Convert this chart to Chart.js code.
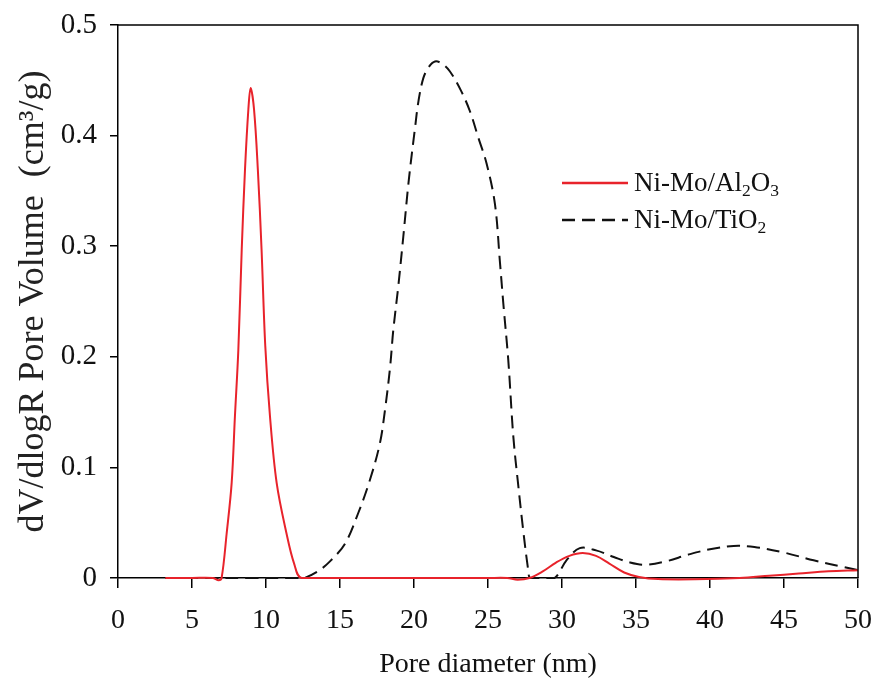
<!DOCTYPE html>
<html>
<head>
<meta charset="utf-8">
<script src="https://cdn.jsdelivr.net/npm/chart.js@4.4.1/dist/chart.umd.min.js"></script>
<style>
  html, body { margin: 0; padding: 0; background: #fff; }
  #wrap { position: relative; width: 885px; height: 682px; }
  #legend {
    position: absolute; left: 562px; top: 164px;
    font-family: 'Liberation Serif', 'Times New Roman', serif;
    font-size: 27px; color: #111;
  }
  .item { display: flex; align-items: center; height: 37px; white-space: nowrap; }
  .item svg { margin-right: 6px; }
  sub { font-size: 0.65em; vertical-align: -0.3em; line-height: 0; }
</style>
</head>
<body>
<div id="wrap">
  <canvas id="chart" width="885" height="682"></canvas>
  <div id="legend"></div>
</div>
<script>
// pore size distribution
const seriesLabels = ['Ni-Mo/Al₂O₃', 'Ni-Mo/TiO₂'];

const alDiameter = [3.2, 5, 6.4, 6.8, 7.0, 7.34, 7.68, 7.9, 8.13, 8.36, 8.58, 8.81, 8.96, 9.19, 9.45, 9.7, 9.95, 10.27, 10.72, 11.39, 11.9, 12.4,
  16, 20, 25, 26.3, 27, 27.8, 28.7, 29.6, 30.5, 31.4, 32.3, 33.2, 34.2, 35.2, 36.5, 39, 42, 44, 46, 48, 50];
const alVolume = [0, 0, 0, -0.002, 0, 0.04, 0.086, 0.146, 0.206, 0.297, 0.369, 0.424, 0.443, 0.424, 0.369, 0.297, 0.21, 0.146, 0.086, 0.04, 0.013, 0,
  0, 0, 0, 0, -0.0015, 0, 0.006, 0.014, 0.02, 0.0225, 0.02, 0.013, 0.005, 0.001, -0.001, -0.0012, 0, 0.002, 0.004, 0.006, 0.007];

const tiDiameter = [3.2, 6, 9, 12, 12.57, 13.5, 14.32, 15.34, 16.24, 17.03, 17.7, 18.04, 18.38, 18.6, 18.94, 19.28, 19.65, 20.07, 20.3, 20.63, 21.0, 21.42,
  21.9, 22.43, 23.2, 23.78, 24.35, 24.9, 25.47, 25.81, 26.03, 26.37, 26.71, 27.05, 27.38, 27.72, 27.85,
  28.6, 29.5, 30.3, 31.2, 32.3, 33.5, 34.6, 35.6, 37, 38.5, 40, 41.6, 43, 45, 47, 49, 50];
const tiVolume = [0, 0, 0, 0, 0, 0.006, 0.015, 0.031, 0.059, 0.089, 0.122, 0.152, 0.19, 0.224, 0.264, 0.309, 0.36, 0.407, 0.431, 0.452, 0.462, 0.467,
  0.465, 0.458, 0.44, 0.422, 0.398, 0.375, 0.338, 0.285, 0.249, 0.197, 0.128, 0.083, 0.043, 0.007, 0,
  0, 0, 0.016, 0.027, 0.025, 0.019, 0.014, 0.012, 0.015, 0.021, 0.026, 0.029, 0.028, 0.023, 0.016, 0.01, 0.007];

const xTicks = [0, 5, 10, 15, 20, 25, 30, 35, 40, 45, 50];
const yTicks = [0, 0.1, 0.2, 0.3, 0.4, 0.5];

const serif = 'Liberation Serif';
const toPoints = (xs, ys) => xs.map((x, i) => ({ x, y: ys[i] }));

// closes the box: top and right edges of the plot area
const frame = {
  id: 'frame',
  afterDraw(chart) {
    const { ctx, chartArea: a } = chart;
    ctx.save();
    ctx.strokeStyle = '#000';
    ctx.lineWidth = 1.5;
    ctx.beginPath();
    ctx.moveTo(a.left, a.top);
    ctx.lineTo(a.right, a.top);
    ctx.lineTo(a.right, a.bottom);
    ctx.stroke();
    ctx.restore();
  }
};

const chart = new Chart(document.getElementById('chart'), {
  type: 'line',
  data: {
    datasets: [
      {
        label: seriesLabels[0],
        data: toPoints(alDiameter, alVolume),
        borderColor: '#e8232b',
        borderWidth: 2,
        pointRadius: 0,
        tension: 0.35,
        clip: 4
      },
      {
        label: seriesLabels[1],
        data: toPoints(tiDiameter, tiVolume),
        borderColor: '#111',
        borderWidth: 2,
        borderDash: [13, 7],
        pointRadius: 0,
        tension: 0.35,
        clip: 4
      }
    ]
  },
  options: {
    responsive: false,
    animation: false,
    layout: { padding: { top: 25, right: 27, left: 0, bottom: 0 } },
    plugins: { legend: { display: false }, tooltip: { enabled: false } },
    scales: {
      x: {
        type: 'linear',
        min: xTicks[0],
        max: xTicks[xTicks.length - 1],
        afterBuildTicks: s => { s.ticks = xTicks.map(v => ({ value: v })); },
        afterFit: s => { s.height = 104; s.paddingLeft = 0; s.paddingRight = 0; },
        ticks: { color: '#111', font: { family: serif, size: 28 }, padding: 16, maxRotation: 0 },
        grid: { drawOnChartArea: false, tickLength: 10, color: '#000', lineWidth: 1.5 },
        border: { color: '#000', width: 1.5 },
        title: {
          display: true, text: 'Pore diameter (nm)', color: '#111',
          font: { family: serif, size: 28 }, padding: { top: 0, bottom: 1 }
        }
      },
      y: {
        min: yTicks[0],
        max: yTicks[yTicks.length - 1],
        afterBuildTicks: s => { s.ticks = yTicks.map(v => ({ value: v })); },
        afterFit: s => { s.width = 118; s.paddingTop = 0; s.paddingBottom = 0; },
        ticks: {
          color: '#111', font: { family: serif, size: 29 }, padding: 13,
          callback: v => v === 0 ? '0' : v.toFixed(1)
        },
        grid: { drawOnChartArea: false, tickLength: 8, color: '#000', lineWidth: 1.5 },
        border: { color: '#000', width: 1.5 },
        title: {
          display: true, text: 'dV/dlogR Pore Volume  (cm³/g)', color: '#222',
          font: { family: serif, size: 36 }, padding: { top: 12, bottom: 0 }
        }
      }
    }
  },
  plugins: [frame]
});

// legend drawn as html so the subscripts stay real text
const legendEl = document.getElementById('legend');
chart.data.datasets.forEach(ds => {
  const item = document.createElement('div');
  item.className = 'item';
  const dash = ds.borderDash ? ds.borderDash.join(' ') : 'none';
  const label = ds.label.replace(/[₀-₉]/g, c => '<sub>' + (c.charCodeAt(0) - 0x2080) + '</sub>');
  item.innerHTML = `
    <svg width="66" height="6"><line x1="0" y1="3" x2="66" y2="3" stroke="${ds.borderColor}"
      stroke-width="2.5" stroke-dasharray="${dash}"/></svg>
    <span>${label}</span>
  `;
  legendEl.appendChild(item);
});
</script>
</body>
</html>
